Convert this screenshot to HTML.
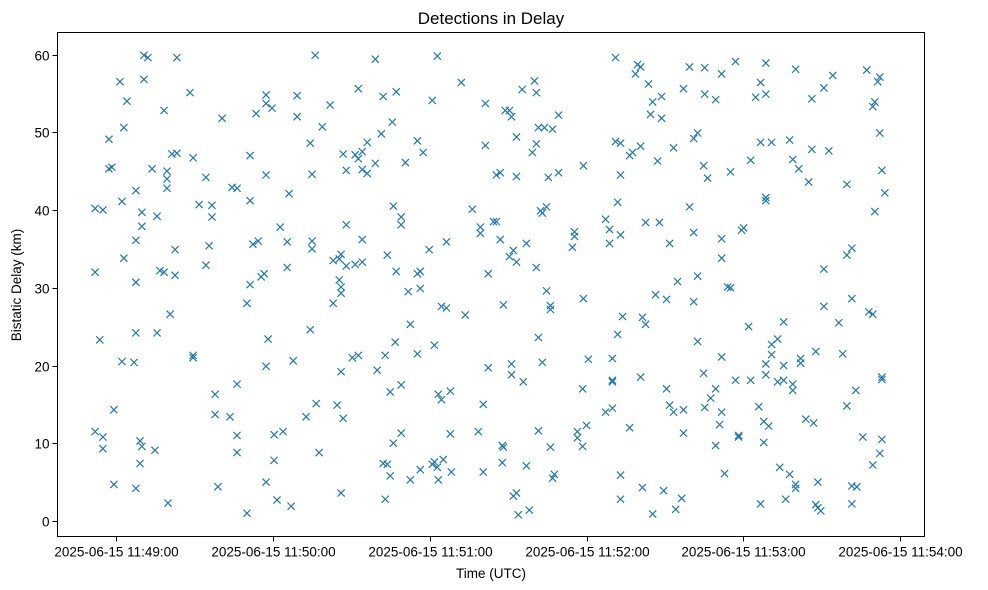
<!DOCTYPE html>
<html><head><meta charset="utf-8"><style>
body{margin:0;background:#fff}
svg{display:block;font-family:"Liberation Sans","DejaVu Sans",sans-serif}
</style></head><body>
<svg id="chart" width="988" height="590" xmlns="http://www.w3.org/2000/svg">
<rect width="988" height="590" fill="#fff"/>
<text x="491" y="24" font-size="17" text-anchor="middle" fill="#000">Detections in Delay</text>
<text x="491" y="578" font-size="13.5" text-anchor="middle" fill="#000">Time (UTC)</text>
<text transform="translate(21,285) rotate(-90)" font-size="13.5" text-anchor="middle" fill="#000">Bistatic Delay (km)</text>
<g id="marks"></g>
<g id="axes"></g>
</svg>
<script>
// seconds since 11:48:00
const times = [52,52,52,53.8,55,55,55,57.3,57.3,58.4,59.2,59.2,61.5,62.3,62.3,63,63,64.2,66.9,67.6,67.6,67.6,67.6,67.6,69.2,69.2,69.9,69.9,69.9,70.7,70.7,72.2,73.8,74.9,75.7,75.7,76.8,78.4,78.4,79.5,79.5,79.5,79.9,80.7,81.4,82.6,82.6,83.3,83.3,88.3,89.5,89.5,89.5,91.8,94.4,94.4,95.6,96.7,96.7,97.9,97.9,99,100.6,103.6,104.4,106.3,106.3,106.3,106.3,110.1,110.1,111.3,111.3,111.3,112.4,113.6,114.4,115.5,116.7,117.4,117.4,117.4,117.4,117.4,118.2,119.7,120.5,120.5,121.6,122.8,123.9,125.5,125.5,126.2,127,127.8,129.3,129.3,132.7,134.3,134.3,135,135,135,136.2,136.6,137.7,138.9,141.9,143.1,143.1,144.6,145.4,145.4,146.1,146.1,146.1,146.1,146.1,146.9,146.9,148.1,148.1,148.1,150.4,151.5,151.5,152.7,152.7,152.7,154.2,154.2,154.2,154.2,156.1,156.1,159.2,159.2,159.9,161.5,162.2,162.2,163,163,163.8,163.8,164.9,164.9,165.7,166.1,166.1,166.8,167.2,167.2,169.1,169.1,169.1,169.1,170.7,171.8,172.6,172.6,175.3,175.3,175.3,176.4,176.4,176.4,177.5,179.8,181,181,181.8,181.8,182.9,182.9,183.3,183.3,184.5,184.5,185.2,186.4,186.4,187.9,187.9,188.3,192.1,193.6,196.3,198.6,199.4,199.4,200.5,200.5,201.3,201.3,202.4,202.4,204.4,205.5,205.5,207,207,207.8,207.8,208.2,208.2,208.9,210.5,210.5,211.3,211.3,211.3,212,212,213.2,213.2,213.2,213.2,213.9,215.4,215.8,217,217,218.1,219.3,220.1,220.8,220.8,220.8,221.6,221.6,221.6,222.4,223.1,223.1,223.9,224.7,224.7,225.4,226.2,226.2,226.2,227,227,227.7,229.3,229.3,234.6,235.4,235.4,236.5,236.5,238.5,238.5,238.8,238.8,240,240.7,247.3,247.3,248.8,248.8,249.9,249.9,249.9,249.9,251.1,251.1,251.9,251.9,253,253,253,253,253,253.8,256.5,256.5,257.6,258.7,259.5,260.7,260.7,260.7,261.4,261.4,262.6,262.6,263.7,264.5,265.3,265.3,266.4,267.2,267.9,268.7,268.7,269.5,270.6,270.6,271.8,271.8,273.3,273.3,274.1,274.8,276.4,277.1,277.1,277.1,279.4,279.4,281,281,281,282.5,282.5,282.5,284.8,284.8,285.2,285.2,285.2,286.3,287.5,289.4,289.4,289.4,290.9,291.7,291.7,291.7,291.7,291.7,292.8,294,295.1,295.1,297,297,298.2,298.2,299.3,300.1,302,302.8,302.8,304.7,305.9,306.6,306.6,306.6,307.8,307.8,308.6,308.6,308.6,308.6,308.6,308.6,309.7,310.8,310.8,310.8,313.1,313.1,313.9,315.4,315.4,315.4,316.2,317.7,317.7,318.9,318.9,318.9,320,320,320,321.2,321.9,321.9,323.9,325,326.2,326.2,326.9,327.7,327.7,328.5,328.5,329.6,330.8,330.8,330.8,332.7,334.2,336.5,338,339.6,339.6,339.6,341.5,341.5,341.5,341.5,343,343.4,345.7,347.2,348,349.5,349.5,349.5,350.3,350.3,351.4,352.2,352.2,352.2,353,353,353,353,354.1];
const delays = [40.2,32,11.5,23.3,10.8,9.3,40,49.1,45.3,45.5,14.3,4.7,56.5,41.1,20.5,50.6,33.8,54,20.4,42.5,36.1,30.7,24.2,4.2,7.4,10.3,39.7,37.9,9.6,59.9,56.8,59.6,45.3,9.1,39.2,24.2,32.2,52.8,32,44,42.8,45,2.3,26.6,47.2,34.9,31.6,59.6,47.3,55.1,46.7,21.3,21,40.7,44.2,32.9,35.4,40.6,39.1,16.3,13.7,4.4,51.8,13.4,42.9,42.8,17.6,11,8.8,28,1,47,41.2,30.4,35.6,52.4,36,31.4,31.8,53.7,54.8,44.5,19.9,5,23.4,53.1,11.1,7.8,2.7,37.8,11.5,35.9,32.6,42.1,1.9,20.6,54.7,52,13.4,24.6,48.6,44.6,36,35,59.9,15.1,8.8,50.7,53.5,28,33.5,14.9,33.7,31,34.3,30.1,29.3,19.2,3.6,47.2,13.2,45.1,38.1,32.8,21,33,47.1,21.3,55.6,46.6,47.5,45.2,36.2,33.3,48.7,44.7,59.4,46,19.4,49.8,54.6,7.4,21.3,2.8,34.2,7.3,16.6,5.8,51.3,40.5,10,23,55.2,32.1,39.1,38.1,17.5,11.3,46.1,29.5,5.3,25.3,48.9,31.8,21.5,32.1,6.6,29.9,47.4,34.9,54.1,7.3,22.6,7.6,6.9,59.8,16.3,5.3,15.6,27.6,7.9,35.9,27.4,16.7,11.2,6.3,56.4,26.5,40.1,11.5,37.8,37,15,6.3,48.3,53.7,31.8,19.7,38.5,38.5,44.5,44.8,36.2,9.7,7.5,27.8,9.5,52.8,34,52.8,52,20.2,18.8,34.8,3.2,49.4,44.3,33.3,3.6,0.8,55.5,17.9,35.7,7.1,1.4,47.4,56.6,48.5,55.1,32.6,50.6,11.6,23.6,39.9,39.6,20.4,50.6,40.4,29.6,44.2,27.7,27.2,9.5,5.5,50.4,6,52.2,44.8,35.2,37.2,36.6,11.5,10.7,17,9.6,45.7,28.6,12.3,20.8,38.8,14,37.5,35.7,20.9,18.1,17.9,14.5,48.8,59.6,41,24,48.6,44.5,36.8,5.9,2.8,26.3,47,12,47.4,57.5,58.7,58.4,48.2,18.5,26.2,4.3,38.4,25.3,56.2,52.3,53.9,0.9,29.1,46.3,38.4,51.8,54.6,3.9,17,28.5,14.9,35.7,14,48,1.5,30.8,2.9,14.3,11.3,55.6,58.4,40.4,49.2,37.1,28.2,49.9,31.5,23.1,45.7,19,14.6,54.9,58.3,44.1,15.8,54.2,17,9.7,12.4,33.8,36.3,57.5,21.1,14,6.1,30.1,44.9,30,18.1,59.1,10.8,11,37.4,37.7,25,46.4,18.1,54.5,14.7,56.4,48.7,2.2,12.8,10.1,41.6,41.2,20.2,18.8,54.9,58.9,12.2,48.7,21.4,22.7,23.4,17.9,6.9,25.6,20,18.1,2.8,49,6,46.5,17.6,16.8,58.1,4.7,4.2,45.3,20.3,20.9,13.1,43.6,54.3,47.8,12.6,21.8,2.1,1.7,5,1.3,55.7,32.4,27.6,47.6,57.3,25.5,21.5,43.3,34.2,14.8,35.1,28.6,4.5,2.2,16.8,4.4,10.8,58,26.9,53.3,26.6,7.2,39.8,53.9,56.5,57.1,49.9,8.7,45.1,18.5,18.2,10.5,42.2];
const xTickSeconds = [60,120,180,240,300,360];
const xTickLabels = ["2025-06-15 11:49:00","2025-06-15 11:50:00","2025-06-15 11:51:00","2025-06-15 11:52:00","2025-06-15 11:53:00","2025-06-15 11:54:00"];
const yTicks = [0,10,20,30,40,50,60];

const NS="http://www.w3.org/2000/svg";
const L=57.5,R=924.5,T=32.5,B=536.5;
function xs(t){return 116+(t-60)*2.614;}
function ys(v){return 521-v*7.775;}
function mk(tag,attrs,parent){const e=document.createElementNS(NS,tag);for(const k in attrs)e.setAttribute(k,attrs[k]);parent.appendChild(e);return e;}
const marks=document.getElementById('marks');
for(let i=0;i<times.length;i++){
  const x=xs(times[i]),y=ys(delays[i]),s=3.6;
  const p=mk('path',{d:`M${x-s},${y-s}L${x+s},${y+s}M${x-s},${y+s}L${x+s},${y-s}`,stroke:'#1f77b4','stroke-width':1.2,fill:'none'},marks);
  
  
}
const axes=document.getElementById('axes');
const frame=mk('rect',{x:L,y:T,width:R-L,height:B-T,fill:'none',stroke:'#000','stroke-width':1},axes);


xTickSeconds.forEach((t,i)=>{
  const x=Math.round(xs(t))+0.5;
  const tk=mk('line',{x1:x,x2:x,y1:B,y2:B+5,stroke:'#000'},axes);
  
  
  const lb=mk('text',{x:x,y:B+20,'font-size':13.5,'text-anchor':'middle',fill:'#000'},axes);
  lb.textContent=xTickLabels[i];
  
  
});
yTicks.forEach(v=>{
  const y=Math.round(ys(v))+0.5;
  const tk=mk('line',{x1:L-5,x2:L,y1:y,y2:y,stroke:'#000'},axes);
  
  
  const lb=mk('text',{x:L-8,y:y+5,'font-size':13.5,'text-anchor':'end',fill:'#000'},axes);
  lb.textContent=String(v);
  
  
});
</script>
</body></html>
